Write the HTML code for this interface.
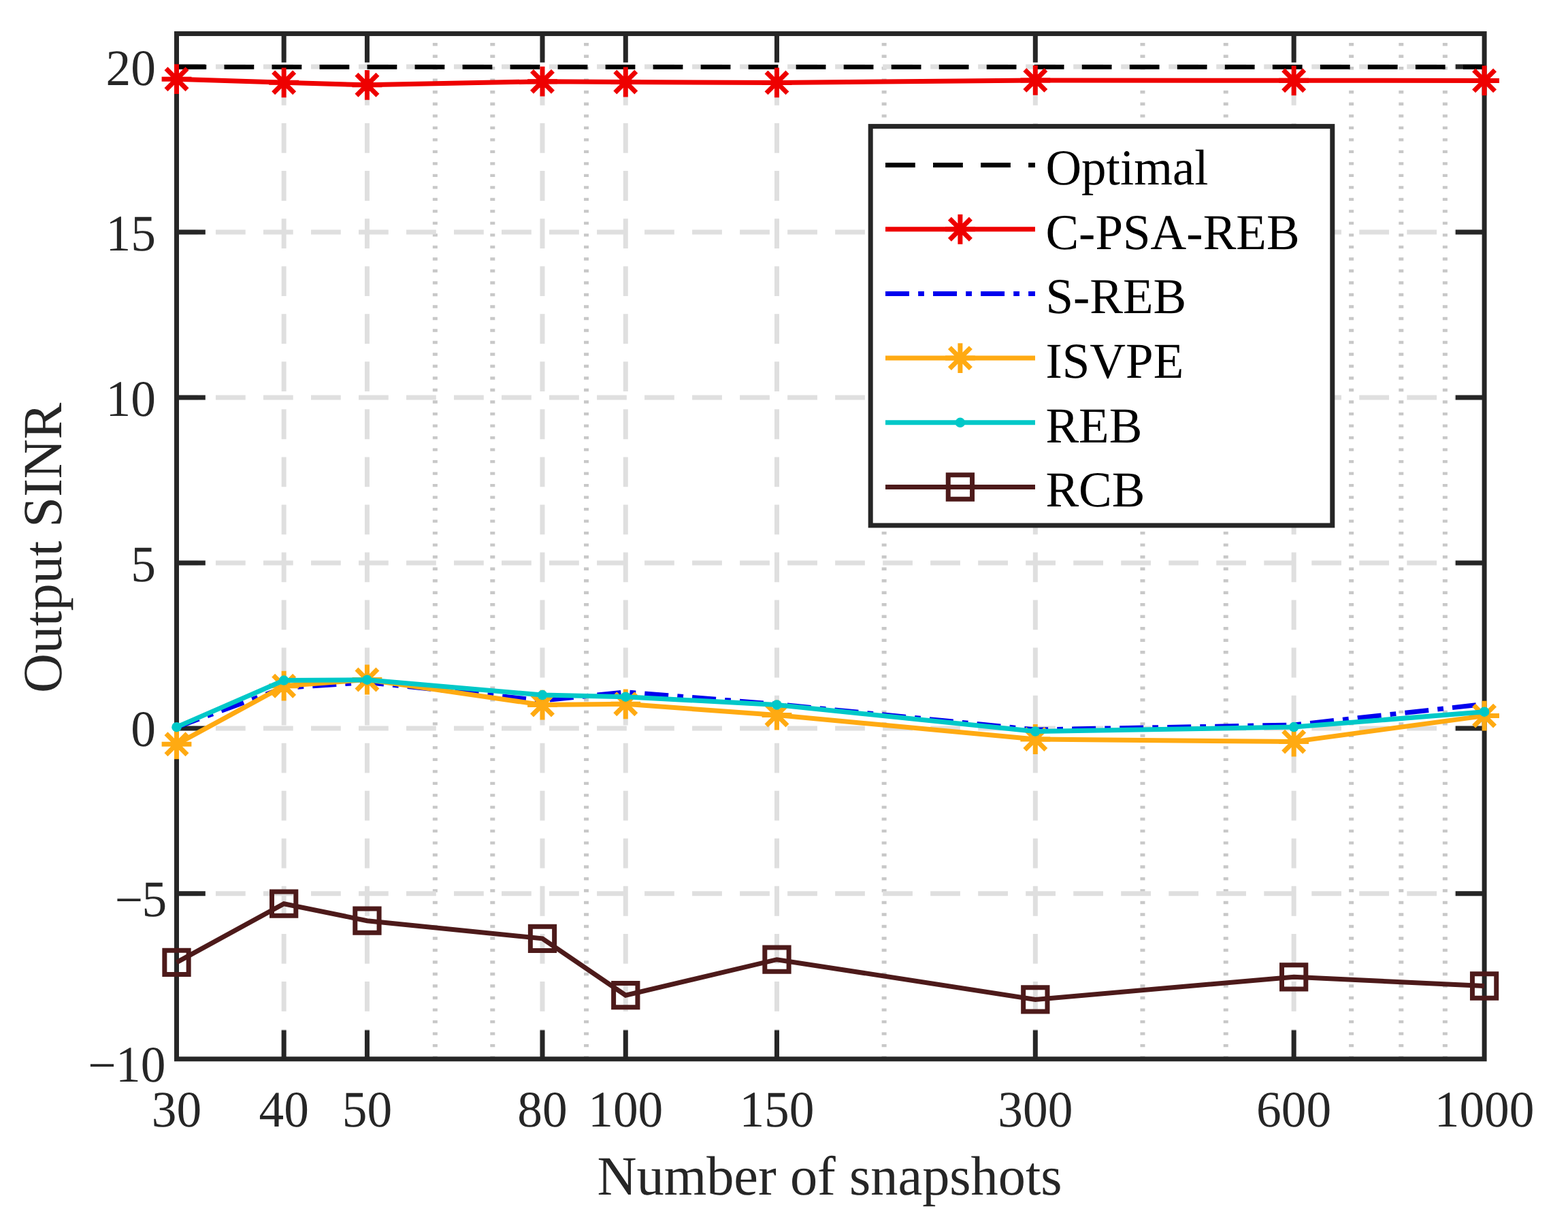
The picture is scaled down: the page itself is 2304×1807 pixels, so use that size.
<!DOCTYPE html>
<html lang="en"><head><meta charset="utf-8"><title>Output SINR versus number of snapshots</title>
<style>
html,body{margin:0;padding:0;background:#fff;}
body{width:2304px;height:1807px;overflow:hidden;}
svg{display:block;}
text{font-family:"Liberation Serif","Times New Roman",Times,serif;text-rendering:geometricPrecision;}
.tl{font-size:73.4px;fill:#262626;}
.al{font-size:80.4px;fill:#262626;}
.lg{font-size:73.0px;fill:#000;}
</style></head><body>
<svg width="2304" height="1807" viewBox="0 0 2304 1807">
<rect x="0" y="0" width="2304" height="1807" fill="#ffffff"/>
<g fill="none" stroke-width="7.0">
<g stroke="#c8c8c8" stroke-dasharray="4.38 13.13">
<line x1="639.35" y1="1555.8" x2="639.35" y2="49.45"/>
<line x1="723.82" y1="1555.8" x2="723.82" y2="49.45"/>
<line x1="861.54" y1="1555.8" x2="861.54" y2="49.45"/>
<line x1="1299.13" y1="1555.8" x2="1299.13" y2="49.45"/>
<line x1="1678.97" y1="1555.8" x2="1678.97" y2="49.45"/>
<line x1="1801.25" y1="1555.8" x2="1801.25" y2="49.45"/>
<line x1="1985.64" y1="1555.8" x2="1985.64" y2="49.45"/>
<line x1="2058.82" y1="1555.8" x2="2058.82" y2="49.45"/>
<line x1="2123.36" y1="1555.8" x2="2123.36" y2="49.45"/>
</g>
<g stroke="#dfdfdf" stroke-dasharray="43.78 26.27">
<line x1="417.15" y1="1555.8" x2="417.15" y2="49.45"/>
<line x1="539.43" y1="1555.8" x2="539.43" y2="49.45"/>
<line x1="797.00" y1="1555.8" x2="797.00" y2="49.45"/>
<line x1="919.28" y1="1555.8" x2="919.28" y2="49.45"/>
<line x1="1141.47" y1="1555.8" x2="1141.47" y2="49.45"/>
<line x1="1521.32" y1="1555.8" x2="1521.32" y2="49.45"/>
<line x1="1901.17" y1="1555.8" x2="1901.17" y2="49.45"/>
<line x1="2181.1" y1="1312.84" x2="259.5" y2="1312.84" stroke-dasharray="43.76 26.255"/>
<line x1="2181.1" y1="1069.88" x2="259.5" y2="1069.88" stroke-dasharray="43.76 26.255"/>
<line x1="2181.1" y1="826.92" x2="259.5" y2="826.92" stroke-dasharray="43.76 26.255"/>
<line x1="2181.1" y1="583.96" x2="259.5" y2="583.96" stroke-dasharray="43.76 26.255"/>
<line x1="2181.1" y1="341.00" x2="259.5" y2="341.00" stroke-dasharray="43.76 26.255"/>
<line x1="2181.1" y1="98.04" x2="259.5" y2="98.04" stroke-dasharray="43.76 26.255"/>
</g></g>
<g fill="none" stroke="#262626" stroke-width="7.0" stroke-linecap="butt">
<rect x="259.5" y="49.45" width="1921.6" height="1506.35" stroke-linejoin="miter"/>
<path d="M417.15 1555.8V1513.50M417.15 49.45V91.75M539.43 1555.8V1513.50M539.43 49.45V91.75M797.00 1555.8V1513.50M797.00 49.45V91.75M919.28 1555.8V1513.50M919.28 49.45V91.75M1141.47 1555.8V1513.50M1141.47 49.45V91.75M1521.32 1555.8V1513.50M1521.32 49.45V91.75M1901.17 1555.8V1513.50M1901.17 49.45V91.75M259.5 1312.84H301.80M2181.1 1312.84H2138.80M259.5 1069.88H301.80M2181.1 1069.88H2138.80M259.5 826.92H301.80M2181.1 826.92H2138.80M259.5 583.96H301.80M2181.1 583.96H2138.80M259.5 341.00H301.80M2181.1 341.00H2138.80M259.5 98.04H301.80M2181.1 98.04H2138.80"/>
</g>
<g fill="none" stroke-width="7.0" stroke-linejoin="miter" stroke-linecap="butt">
<line x1="259.5" y1="98.29" x2="2181.1" y2="98.29" stroke="#000" stroke-width="6.8" stroke-dasharray="43.76 26.255"/>
<polyline points="259.50,116.20 417.15,121.30 539.43,124.80 797.00,119.70 919.28,120.50 1141.47,121.40 1521.32,117.90 1901.17,118.30 2181.10,118.40" stroke="#ee0000"/>
<path stroke="#ee0000" d="M237.60 116.20H281.40M259.50 94.30V138.10M244.01 100.71L274.99 131.69M244.01 131.69L274.99 100.71M395.25 121.30H439.05M417.15 99.40V143.20M401.66 105.81L432.64 136.79M401.66 136.79L432.64 105.81M517.53 124.80H561.33M539.43 102.90V146.70M523.95 109.31L554.92 140.29M523.95 140.29L554.92 109.31M775.10 119.70H818.90M797.00 97.80V141.60M781.51 104.21L812.48 135.19M781.51 135.19L812.48 104.21M897.38 120.50H941.18M919.28 98.60V142.40M903.79 105.01L934.76 135.99M903.79 135.99L934.76 105.01M1119.57 121.40H1163.37M1141.47 99.50V143.30M1125.99 105.91L1156.96 136.89M1125.99 136.89L1156.96 105.91M1499.42 117.90H1543.22M1521.32 96.00V139.80M1505.84 102.41L1536.81 133.39M1505.84 133.39L1536.81 102.41M1879.27 118.30H1923.07M1901.17 96.40V140.20M1885.68 102.81L1916.65 133.79M1885.68 133.79L1916.65 102.81M2159.20 118.40H2203.00M2181.10 96.50V140.30M2165.61 102.91L2196.59 133.89M2165.61 133.89L2196.59 102.91"/>
<polyline points="259.50,1068.40 417.15,1010.50 539.43,1002.50 797.00,1029.10 919.28,1016.70 1141.47,1034.50 1521.32,1072.00 1901.17,1065.00 2181.10,1034.50" stroke="#0000ee" stroke-dasharray="35.02 13.13 8.76 13.13"/>
<polyline points="259.50,1093.30 417.15,1007.70 539.43,998.50 797.00,1035.60 919.28,1034.30 1141.47,1050.60 1521.32,1086.00 1901.17,1089.60 2181.10,1051.60" stroke="#ffaa12"/>
<path stroke="#ffaa12" d="M237.60 1093.30H281.40M259.50 1071.40V1115.20M244.01 1077.81L274.99 1108.79M244.01 1108.79L274.99 1077.81M395.25 1007.70H439.05M417.15 985.80V1029.60M401.66 992.21L432.64 1023.19M401.66 1023.19L432.64 992.21M517.53 998.50H561.33M539.43 976.60V1020.40M523.95 983.01L554.92 1013.99M523.95 1013.99L554.92 983.01M775.10 1035.60H818.90M797.00 1013.70V1057.50M781.51 1020.11L812.48 1051.09M781.51 1051.09L812.48 1020.11M897.38 1034.30H941.18M919.28 1012.40V1056.20M903.79 1018.81L934.76 1049.79M903.79 1049.79L934.76 1018.81M1119.57 1050.60H1163.37M1141.47 1028.70V1072.50M1125.99 1035.11L1156.96 1066.09M1125.99 1066.09L1156.96 1035.11M1499.42 1086.00H1543.22M1521.32 1064.10V1107.90M1505.84 1070.51L1536.81 1101.49M1505.84 1101.49L1536.81 1070.51M1879.27 1089.60H1923.07M1901.17 1067.70V1111.50M1885.68 1074.11L1916.65 1105.09M1885.68 1105.09L1916.65 1074.11M2159.20 1051.60H2203.00M2181.10 1029.70V1073.50M2165.61 1036.11L2196.59 1067.09M2165.61 1067.09L2196.59 1036.11"/>
<polyline points="259.50,1068.15 417.15,999.60 539.43,998.70 797.00,1021.10 919.28,1023.70 1141.47,1035.50 1521.32,1074.50 1901.17,1068.10 2181.10,1045.70" stroke="#00c8c8"/>
<g fill="#00c8c8" stroke="none"><circle cx="259.50" cy="1068.15" r="7.25"/><circle cx="417.15" cy="999.60" r="7.25"/><circle cx="539.43" cy="998.70" r="7.25"/><circle cx="797.00" cy="1021.10" r="7.25"/><circle cx="919.28" cy="1023.70" r="7.25"/><circle cx="1141.47" cy="1035.50" r="7.25"/><circle cx="1521.32" cy="1074.50" r="7.25"/><circle cx="1901.17" cy="1068.10" r="7.25"/><circle cx="2181.10" cy="1045.70" r="7.25"/></g>
<polyline points="259.50,1413.90 417.15,1327.70 539.43,1352.70 797.00,1378.80 919.28,1462.20 1141.47,1409.70 1521.32,1468.40 1901.17,1435.30 2181.10,1448.50" stroke="#4d1a1a"/>
<path stroke="#4d1a1a" d="M241.85 1396.25H277.15V1431.55H241.85ZM399.50 1310.05H434.80V1345.35H399.50ZM521.78 1335.05H557.08V1370.35H521.78ZM779.35 1361.15H814.65V1396.45H779.35ZM901.63 1444.55H936.93V1479.85H901.63ZM1123.82 1392.05H1159.12V1427.35H1123.82ZM1503.67 1450.75H1538.97V1486.05H1503.67ZM1883.52 1417.65H1918.82V1452.95H1883.52ZM2163.45 1430.85H2198.75V1466.15H2163.45Z"/>
</g>
<g>
<text class="tl" text-anchor="end" transform="translate(229.00 1096.48) scale(1 1.024)">0</text>
<text class="tl" text-anchor="end" transform="translate(229.00 853.52) scale(1 1.024)">5</text>
<text class="tl" text-anchor="end" transform="translate(229.00 610.56) scale(1 1.024)">10</text>
<text class="tl" text-anchor="end" transform="translate(229.00 367.60) scale(1 1.024)">15</text>
<text class="tl" text-anchor="end" transform="translate(229.00 124.64) scale(1 1.024)">20</text>
<text class="tl" x="0.00 39.60" y="1.1 0" transform="translate(168.80 1346.14) scale(1 1.024)">−5</text>
<text class="tl" x="0.00 40.80 77.50" y="1.1 0 0" transform="translate(129.20 1589.10) scale(1 1.024)">−10</text>
<text class="tl" text-anchor="middle" transform="translate(259.50 1655.20) scale(1 1.024)">30</text>
<text class="tl" text-anchor="middle" transform="translate(417.15 1655.20) scale(1 1.024)">40</text>
<text class="tl" text-anchor="middle" transform="translate(539.43 1655.20) scale(1 1.024)">50</text>
<text class="tl" text-anchor="middle" transform="translate(797.00 1655.20) scale(1 1.024)">80</text>
<text class="tl" text-anchor="middle" transform="translate(919.28 1655.20) scale(1 1.024)">100</text>
<text class="tl" text-anchor="middle" transform="translate(1141.47 1655.20) scale(1 1.024)">150</text>
<text class="tl" text-anchor="middle" transform="translate(1521.32 1655.20) scale(1 1.024)">300</text>
<text class="tl" text-anchor="middle" transform="translate(1901.17 1655.20) scale(1 1.024)">600</text>
<text class="tl" text-anchor="middle" transform="translate(2181.10 1655.20) scale(1 1.024)">1000</text>
</g>
<text class="al" text-anchor="middle" transform="translate(1219.00 1754.60) scale(1 1.012)">Number of snapshots</text>
<text class="al" text-anchor="middle" transform="translate(90.20 804.80) rotate(-90) scale(1 1.012)">Output SINR</text>
<rect x="1279.2" y="185.6" width="678.60" height="586.30" fill="#fff" stroke="#262626" stroke-width="7.0"/>
<g fill="none" stroke-width="7.0" stroke-linecap="butt">
<line x1="1301.0" y1="242.4" x2="1521.0" y2="242.4" stroke="#000" stroke-dasharray="43.78 26.27"/>
<line x1="1301.0" y1="336.8" x2="1521.0" y2="336.8" stroke="#ee0000"/>
<path stroke="#ee0000" d="M1389.00 336.80H1432.80M1410.90 314.90V358.70M1395.41 321.31L1426.39 352.29M1395.41 352.29L1426.39 321.31"/>
<line x1="1301.0" y1="431.5" x2="1521.0" y2="431.5" stroke="#0000ee" stroke-dasharray="35.02 13.13 8.76 13.13"/>
<line x1="1301.0" y1="526.1" x2="1521.0" y2="526.1" stroke="#ffaa12"/>
<path stroke="#ffaa12" d="M1389.00 526.10H1432.80M1410.90 504.20V548.00M1395.41 510.61L1426.39 541.59M1395.41 541.59L1426.39 510.61"/>
<line x1="1301.0" y1="620.8" x2="1521.0" y2="620.8" stroke="#00c8c8"/>
<circle cx="1410.9" cy="620.8" r="7.25" fill="#00c8c8" stroke="none"/>
<line x1="1301.0" y1="715.5" x2="1521.0" y2="715.5" stroke="#4d1a1a"/>
<path stroke="#4d1a1a" d="M1393.25 697.85H1428.55V733.15H1393.25Z"/>
</g>
<g>
<text class="lg" transform="translate(1536.40 271.10) scale(1 1.012)">Optimal</text>
<text class="lg" transform="translate(1536.40 365.50) scale(1 1.012)">C-PSA-REB</text>
<text class="lg" transform="translate(1536.40 460.20) scale(1 1.012)">S-REB</text>
<text class="lg" transform="translate(1536.40 554.80) scale(1 1.012)">ISVPE</text>
<text class="lg" transform="translate(1536.40 649.50) scale(1 1.012)">REB</text>
<text class="lg" transform="translate(1536.40 744.20) scale(1 1.012)">RCB</text>
</g>
</svg></body></html>
